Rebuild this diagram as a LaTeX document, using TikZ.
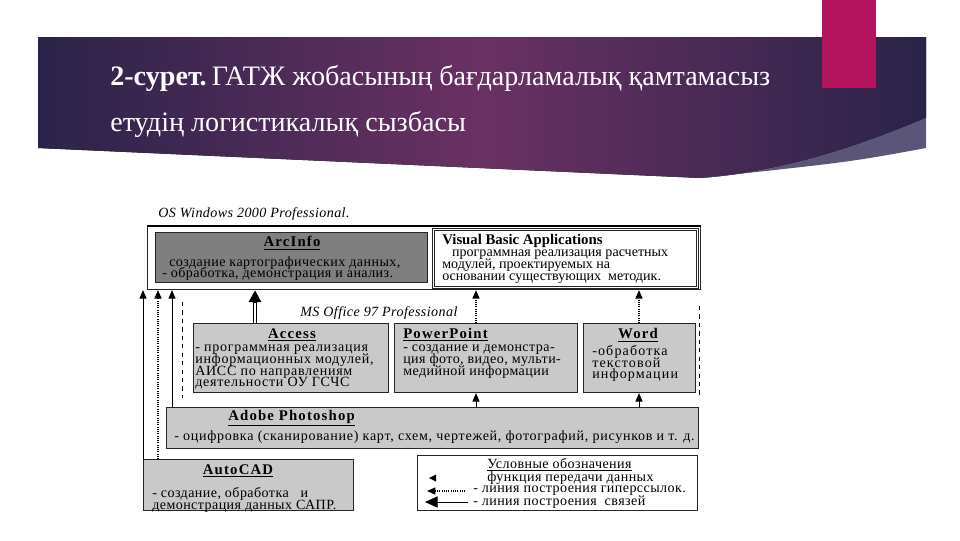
\documentclass[tikz,border=0pt]{standalone}
\usepackage{fontspec}
\setmainfont{Liberation Serif}
\newfontfamily\boxfont[LetterSpace=3]{Liberation Serif}
\newfontfamily\wideboxfont[LetterSpace=5]{Liberation Serif}
\newfontfamily\wordfont[LetterSpace=8]{Liberation Serif}
\newfontfamily\headfont[LetterSpace=8]{Liberation Serif}
\newcommand{\tightlines}{\lineskiplimit-100pt\relax}
\usetikzlibrary{arrows.meta,calc}

\definecolor{banDark}{HTML}{2A2349}
\definecolor{banMid}{HTML}{6A3163}
\definecolor{banSwoosh}{HTML}{5B5579}
\definecolor{slideRed}{HTML}{B4145E}
\definecolor{boxDark}{HTML}{7F7F7F}
\definecolor{boxLight}{HTML}{C9C9C9}

\tikzset{
  box/.style={draw=black!85, anchor=north west, inner sep=0pt, line width=0.8pt},
  head/.style={font=\headfont\fontsize{10.5}{11}\selectfont\bfseries, inner sep=0pt},
  body/.style={font=\boxfont\fontsize{10}{8.3}\selectfont\tightlines, align=left, anchor=north west, inner sep=0pt},
  osname/.style={font=\boxfont\fontsize{10}{11}\selectfont\itshape, anchor=west, inner sep=0pt},
  link/.style={-{Triangle[width=5pt,length=6pt]}, line width=0.6pt},
  hyper/.style={link, densely dotted, line width=0.8pt},
  bond/.style={-{Triangle[width=8.5pt,length=8.5pt]}, line width=3pt}
}

\begin{document}
\begin{tikzpicture}[x=0.025cm, y=-0.025cm]
                \useasboundingbox (0,0) rectangle (960,540);
                \fill[white] (0,0) rectangle (960,540);
%
                \fill[left color=banDark, right color=banDark, middle color=banMid]
                    (38,37) -- (926,37) -- (926,118)
                    .. controls (850,150) and (780,172) .. (700,178) -- (38,148) -- cycle;
                \fill[banSwoosh] (700,178) .. controls (780,172) and (850,150) .. (926,118)
                    -- (926,148) .. controls (850,162) .. (700,178);
                \fill[slideRed] (822,0) rectangle (876,88);
                \node[white, anchor=base west, inner sep=0pt, font=\fontsize{20}{24}\selectfont] (title1)
                    at (110,85) {\textbf{2-сурет.}\hspace{-3pt} ГАТЖ жобасының бағдарламалық қамтамасыз};
                \node[white, anchor=base west, inner sep=0pt, font=\fontsize{20}{24}\selectfont] (title2)
                    at (110,131) {етудің логистикалық сызбасы};
%
                \node[osname] (osLabel) at (158,214) {OS Windows 2000 Professional.};
                \node[box, minimum width=13.825cm, minimum height=1.575cm] (win) at (147,226) {};
                \draw[very thick] (win.north west) -- (win.north east);
%
                \node[box, fill=boxDark, minimum width=6.8cm, minimum height=1.25cm] (arcinfo) at (155,232) {};
                \node[head] (arcinfoHead) at (292,243) {\underline{ArcInfo}};
                \node[body, font=\boxfont\fontsize{10}{7.8}\selectfont\tightlines] (arcinfoText) at (162,256)
                    {\hspace*{5pt}создание картографических данных,\\- обработка, демонстрация и анализ.};
%
                \node[box, double, double distance=1pt, minimum width=6.6cm, minimum height=1.45cm] (vba) at (433,229) {};
                \node[head, font=\fontsize{10.5}{11}\selectfont\bfseries, anchor=west] (vbaHead) at (442,241) {Visual Basic Applications};
                \node[body, font=\fontsize{10}{8.5}\selectfont\tightlines] (vbaText) at (442,250)
                    {\hspace*{7pt}программная реализация расчетных\\модулей, проектируемых на\\основании существующих\ \ методик.};
%
                \draw[dashed, line width=0.6pt] (182,302) -- (182,398);
                \draw[dashed, line width=0.6pt] (699,306) -- (699,397);
                \node[osname] (officeLabel) at (300,313) {MS Office 97 Professional};
%
                \node[box, fill=boxLight, minimum width=4.875cm, minimum height=1.725cm] (access) at (193,323) {};
                \node[head] (accessHead) at (292,335) {\underline{Access}};
                \node[body, font=\wideboxfont\fontsize{10}{8.3}\selectfont\tightlines] (accessText) at (195,345)
                    {- программная реализация\\информационных модулей,\\АИСС по направлениям\\деятельности ОУ ГСЧС};
%
                \node[box, fill=boxLight, minimum width=4.575cm, minimum height=1.725cm] (ppoint) at (394,323) {};
                \node[head, anchor=west] (ppointHead) at (403,335) {\underline{PowerPoint}};
                \node[body] (ppointText) at (403,345)
                    {- создание и демонстра-\\ция фото, видео, мульти-\\медийной информации};
%
                \node[box, fill=boxLight, minimum width=2.8cm, minimum height=1.725cm] (word) at (583,323) {};
                \node[head] (wordHead) at (638,335) {\underline{Word}};
                \node[body, font=\wordfont\fontsize{10}{8.3}\selectfont\tightlines] (wordText) at (592,345)
                    {-обработка\\текстовой\\информации};
%
                \node[box, fill=boxLight, minimum width=13.3cm, minimum height=1.025cm] (photo) at (166,407) {};
                \node[head, anchor=west] (photoHead) at (228,418) {\underline{Adobe Photoshop}};
                \node[body, font=\wideboxfont\fontsize{10}{8.3}\selectfont, anchor=west] (photoText) at (174,437)
                    {- оцифровка (сканирование) карт, схем, чертежей, фотографий, рисунков и т. д.};
%
                \node[box, fill=boxLight, minimum width=5.25cm, minimum height=1.275cm] (acad) at (143,459) {};
                \node[head] (acadHead) at (238,471) {\underline{AutoCAD}};
                \node[body, font=\boxfont\fontsize{10}{8.5}\selectfont\tightlines] (acadText) at (152,487)
                    {- создание, обработка\ \ \ и\\демонстрация данных САПР.};
%
                \node[box, minimum width=7cm, minimum height=1.375cm] (legend) at (417,455) {};
                \node[body, anchor=west] (legendHead) at (487,465) {\underline{Условные обозначения}};
                \node[body, anchor=west] (legendA) at (487,478) {функция передачи данных};
                \node[body, anchor=west] (legendB) at (473,491) {- линия построения гиперссылок.};
                \node[body, anchor=west] (legendC) at (473,502) {- линия построения\ \ связей};
                \coordinate (keyA) at (436,478);
                \coordinate (keyB) at (465,491);
                \coordinate (keyC) at (468,502);
                \fill (keyA) -- ++(0,-3.5) -- ++(-7,3.5) -- ++(7,3.5) -- cycle;
                \draw[hyper] (keyB) -- (427,491);
                \draw[link, -{Triangle[width=8pt,length=9pt]}] (keyC) -- (425,502);
%
                \coordinate (acadA) at (acad.north west);
                \coordinate (acadB) at ($(acad.north west)+(15,0)$);
                \coordinate (photoA) at ($(photo.north west)+(6,0)$);
                \coordinate (accessA) at ($(access.north west)+(62,0)$);
                \coordinate (ppointA) at ($(ppoint.north west)+(82,0)$);
                \coordinate (wordA) at ($(word.north west)+(56,0)$);
%
                \draw[link] (acadA) -- (acadA |- win.south);
                \draw[hyper] (acadB) -- (acadB |- win.south);
                \draw[link] (photoA) -- (photoA |- win.south);
                \draw[bond] (accessA) -- (accessA |- win.south);
                \draw[white, line width=1.2pt, shorten >=9pt] (accessA) -- (accessA |- win.south);
                \draw[hyper] (ppointA) -- (ppointA |- win.south);
                \draw[hyper] (wordA) -- (wordA |- win.south);
                \draw[link] (ppointA |- photo.north) -- (ppointA |- ppoint.south);
                \draw[link] (wordA |- photo.north) -- (wordA |- word.south);
            \end{tikzpicture}
\end{document}
